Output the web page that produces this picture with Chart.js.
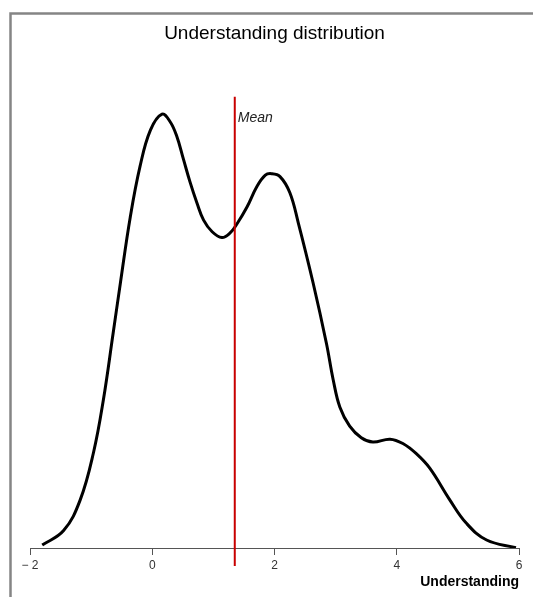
<!DOCTYPE html>
<html>
<head>
<meta charset="utf-8">
<script src="https://cdn.jsdelivr.net/npm/chart.js@4.4.1/dist/chart.umd.min.js"></script>
<style>
  html, body { margin: 0; padding: 0; background: #fff; }
  #wrap { width: 533px; height: 597px; }
</style>
</head>
<body>
<div id="wrap"><canvas id="myChart"></canvas></div>
<script>
// density curve
const xValues = [-1.80, -1.45, -1.18, -0.96, -0.80, -0.64, -0.52, -0.36, -0.20, -0.03,
                 0.16, 0.29, 0.40, 0.51, 0.62, 0.73, 0.84, 0.98, 1.14, 1.27,
                 1.38, 1.55, 1.71, 1.85, 1.95, 2.09, 2.25, 2.39, 2.63, 2.85,
                 2.96, 3.07, 3.23, 3.42, 3.61, 3.89, 4.10, 4.32, 4.54, 4.87,
                 5.14, 5.47, 5.95];
const densityValues = [0.002, 0.012, 0.033, 0.066, 0.102, 0.148, 0.183, 0.228, 0.263, 0.288,
                       0.299, 0.294, 0.284, 0.268, 0.252, 0.238, 0.226, 0.218, 0.214, 0.217,
                       0.223, 0.235, 0.249, 0.257, 0.258, 0.256, 0.245, 0.224, 0.183, 0.141,
                       0.116, 0.097, 0.084, 0.076, 0.073, 0.075, 0.072, 0.065, 0.055, 0.033,
                       0.017, 0.0055, 0.0002];
const tickValues = [-2, 0, 2, 4, 6];
const meanValue = 1.35;

const points = xValues.map((x, i) => ({ x: x, y: densityValues[i] }));

// frame, mean line and label
const extras = {
    id: 'extras',
    beforeDraw(chart) {
        const c = chart.ctx;
        c.save();
        c.strokeStyle = '#858585';
        c.lineWidth = 2.5;
        c.strokeRect(10.5, 13.5, 700, 800);
        c.restore();
    },
    afterDatasetsDraw(chart) {
        const c = chart.ctx;
        const area = chart.chartArea;
        const mx = chart.scales.x.getPixelForValue(meanValue);
        c.save();
        c.strokeStyle = '#c80000';
        c.lineWidth = 2;
        c.beginPath();
        c.moveTo(mx, area.top);
        c.lineTo(mx, area.bottom + 18);
        c.stroke();
        c.fillStyle = '#222';
        c.font = 'italic 14px "Liberation Sans", Arial, sans-serif';
        c.textBaseline = 'middle';
        c.fillText('Mean', mx + 3, area.top + 21);
        c.restore();
    }
};

const ctx = document.getElementById('myChart');
new Chart(ctx, {
    type: 'scatter',
    data: {
        datasets: [{
            data: points,
            showLine: true,
            borderColor: '#000',
            borderWidth: 3,
            pointRadius: 0,
            tension: 0.4,
            fill: false
        }]
    },
    options: {
        responsive: true,
        maintainAspectRatio: false,
        animation: false,
        layout: { padding: { left: 30, right: 14, top: 0, bottom: 0 } },
        scales: {
            x: {
                type: 'linear',
                min: -2,
                max: 6,
                afterBuildTicks: (s) => { s.ticks = tickValues.map(v => ({ value: v })); },
                afterFit: (s) => { s.height = 49; },
                grid: { drawOnChartArea: false, drawTicks: true, tickLength: 7, color: '#555' },
                border: { display: true, color: '#555', width: 1 },
                ticks: {
                    padding: 3,
                    color: '#333',
                    font: { family: '"Liberation Sans", Arial, sans-serif', size: 12 },
                    callback: (v) => (v < 0 ? '\u2212 ' + Math.abs(v) : String(v))
                },
                title: {
                    display: true,
                    text: 'Understanding',
                    align: 'end',
                    color: '#000',
                    font: { family: '"Liberation Sans", Arial, sans-serif', size: 14, weight: 'bold' },
                    padding: { top: 0, bottom: 6 }
                }
            },
            y: {
                display: false,
                min: 0,
                max: 0.311
            }
        },
        plugins: {
            legend: { display: false },
            tooltip: { enabled: false },
            title: {
                display: true,
                text: 'Understanding distribution',
                color: '#000',
                font: { family: '"Liberation Sans", Arial, sans-serif', size: 19, weight: 'normal' },
                padding: { top: 22, bottom: 52 }
            }
        }
    },
    plugins: [extras]
});
</script>
</body>
</html>
